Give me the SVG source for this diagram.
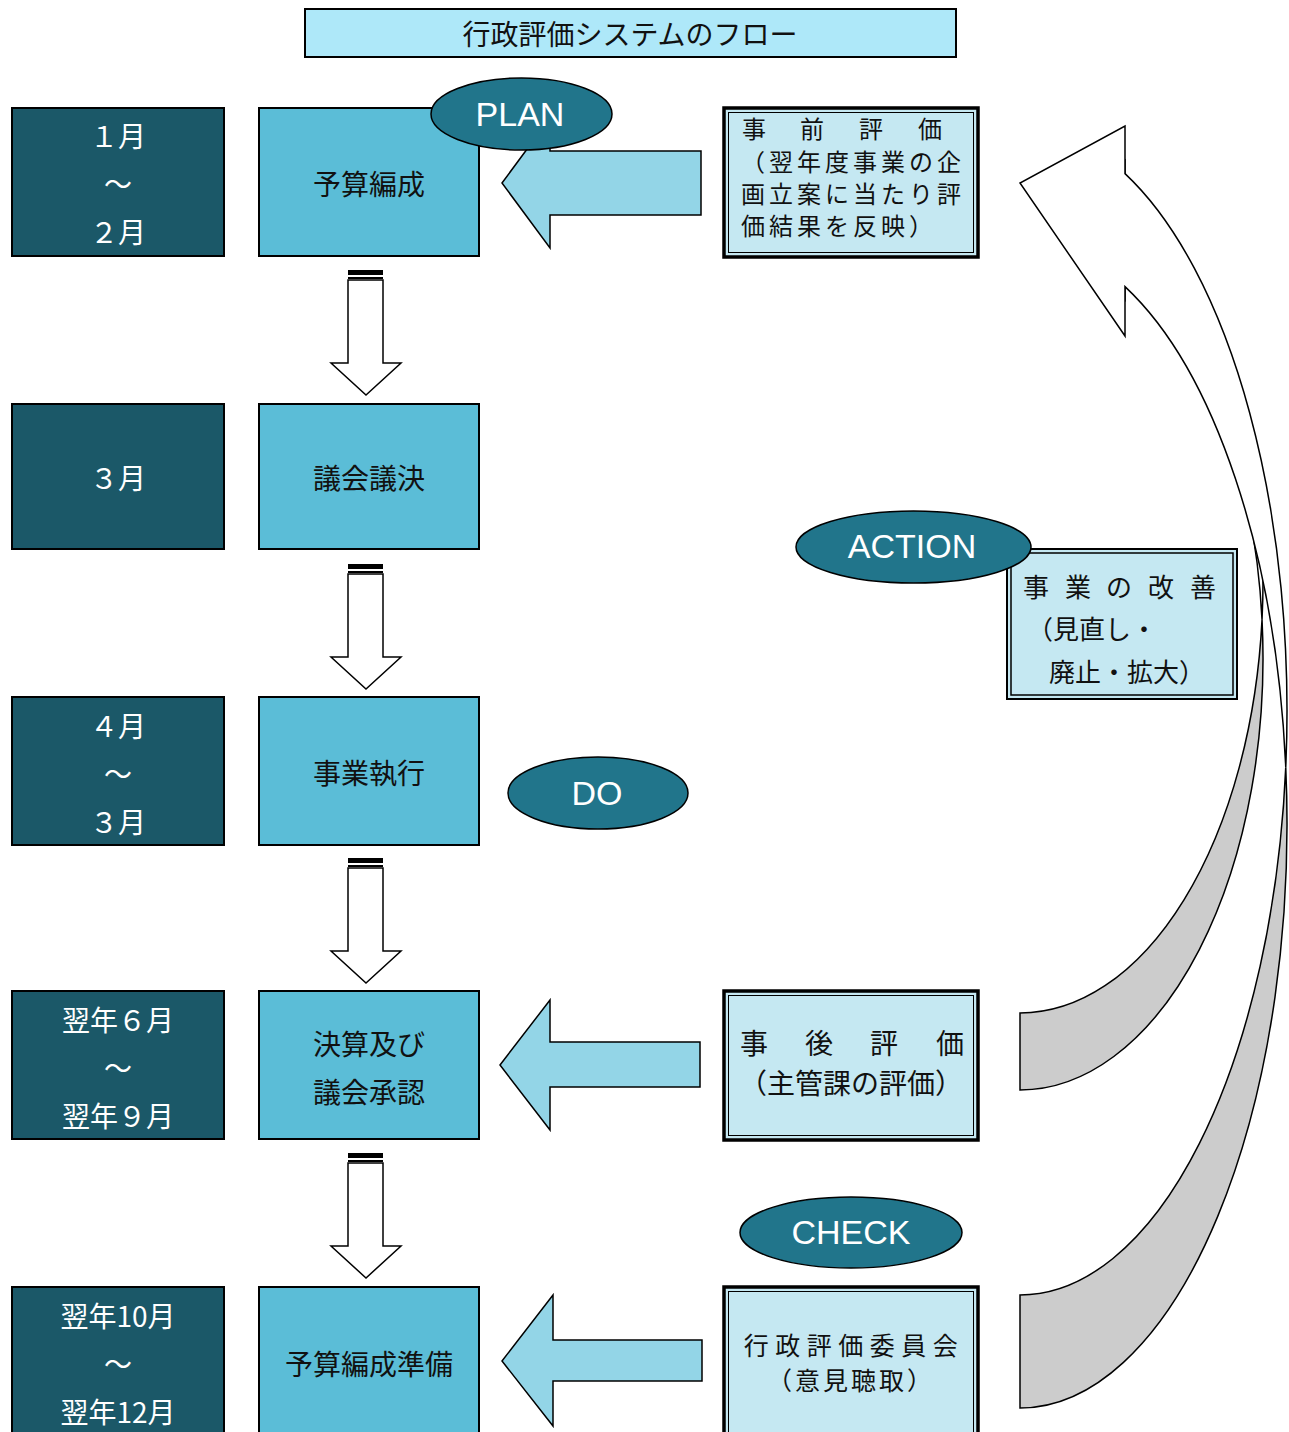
<svg xmlns="http://www.w3.org/2000/svg" width="1289" height="1432" viewBox="0 0 1289 1432">
<style>
.jp{font-family:"Noto Sans CJK JP","Noto Sans",sans-serif;font-size:28px;dominant-baseline:central}
.sm{font-size:24px;letter-spacing:4px}
.dark{fill:#1B5868;stroke:#000;stroke-width:2}
.mid{fill:#5BBDD7;stroke:#000;stroke-width:2}
.light{fill:#C5E8F2;stroke:#000;stroke-width:3.5}
.inner{fill:none;stroke:#000;stroke-width:1}
.wt{fill:#fff;text-anchor:middle}
.bk{fill:#111;text-anchor:middle}
.bl{fill:#111}
.ell{fill:#21758B;stroke:#000;stroke-width:1.5}
.et{font-family:"Liberation Sans",Arial,sans-serif;font-size:34px;fill:#fff;text-anchor:middle;dominant-baseline:central}
.larr{fill:#93D5E7;stroke:#000;stroke-width:1.5}
.darr{fill:#fff;stroke:#000;stroke-width:1.5}
.gray{fill:#CCCCCC;stroke:#000;stroke-width:1.5}
.white{fill:#fff;stroke:#000;stroke-width:1.5}
</style>
<rect width="1289" height="1432" fill="#fff"/>

<g id="title">
<rect x="305" y="9" width="651" height="48" fill="#AEE8F9" stroke="#000" stroke-width="2"/>
<text class="jp bk" x="630" y="33">行政評価システムのフロー</text>
</g>

<g id="connectors">
<defs>
<g id="downArrow">
<rect x="348" y="270" width="35" height="5" fill="#000"/>
<rect x="348" y="277" width="35" height="2" fill="#000"/>
<path class="darr" d="M348,280 L383,280 L383,363 L401,363 L366,395 L331,363 L348,363 Z"/>
</g>
</defs>
<use href="#downArrow"/>
<use href="#downArrow" transform="translate(0,294)"/>
<use href="#downArrow" transform="translate(0,588)"/>
<use href="#downArrow" transform="translate(0,883)"/>

<path class="larr" d="M502,183 L550,118 L550,151 L701,151 L701,215 L550,215 L550,248 Z"/>
<path class="larr" d="M500,1065 L550,1000 L550,1042 L700,1042 L700,1087 L550,1087 L550,1130 Z"/>
<path class="larr" d="M502,1361 L553,1295 L553,1340 L702,1340 L702,1381 L553,1381 L553,1426 Z"/>

<g id="curvedA">
<path class="gray" d="M1020,1013 L1020,1090 A243,431.9 0 0 0 1262.03,619.6 A243,431.9 0 0 1 1020,1013 Z"/>
<path class="white" d="M1262.03,619.6 A243,431.9 0 0 0 1125,191.6 L1125,160 L1035,200 L1125,300 L1125,268.6 A243,431.9 0 0 1 1262.03,619.6 Z"/>
</g>
<g id="curvedB">
<path class="gray" d="M1020,1295 L1020,1408 A267,584.25 0 0 0 1285.75,767.25 A267,584.25 0 0 1 1020,1295 Z"/>
<path class="white" d="M1285.75,767.25 A267,584.25 0 0 0 1125,173.6 L1125,126 L1020,183 L1125,336 L1125,286.6 A267,584.25 0 0 1 1285.75,767.25 Z"/>
</g>
</g>

<g id="month1"><rect class="dark" x="12" y="108" width="212" height="148"/>
<text class="jp wt" x="118" y="135">１月</text><text class="jp wt" x="118" y="183">～</text><text class="jp wt" x="118" y="231">２月</text></g>
<g id="month2"><rect class="dark" x="12" y="404" width="212" height="145"/>
<text class="jp wt" x="118" y="477">３月</text></g>
<g id="month3"><rect class="dark" x="12" y="697" width="212" height="148"/>
<text class="jp wt" x="118" y="725">４月</text><text class="jp wt" x="118" y="773">～</text><text class="jp wt" x="118" y="821">３月</text></g>
<g id="month4"><rect class="dark" x="12" y="991" width="212" height="148"/>
<text class="jp wt" x="118" y="1019">翌年６月</text><text class="jp wt" x="118" y="1067">～</text><text class="jp wt" x="118" y="1115">翌年９月</text></g>
<g id="month5"><rect class="dark" x="12" y="1287" width="212" height="160"/>
<text class="jp wt" x="118" y="1315">翌年10月</text><text class="jp wt" x="118" y="1363">～</text><text class="jp wt" x="118" y="1411">翌年12月</text></g>

<g id="step1"><rect class="mid" x="259" y="108" width="220" height="148"/>
<text class="jp bk" x="369" y="183">予算編成</text></g>
<g id="step2"><rect class="mid" x="259" y="404" width="220" height="145"/>
<text class="jp bk" x="369" y="477">議会議決</text></g>
<g id="step3"><rect class="mid" x="259" y="697" width="220" height="148"/>
<text class="jp bk" x="369" y="772">事業執行</text></g>
<g id="step4"><rect class="mid" x="259" y="991" width="220" height="148"/>
<text class="jp bk" x="369" y="1043">決算及び</text><text class="jp bk" x="369" y="1091">議会承認</text></g>
<g id="step5"><rect class="mid" x="259" y="1287" width="220" height="160"/>
<text class="jp bk" x="369" y="1363">予算編成準備</text></g>

<g id="preEval"><rect class="light" x="724" y="108" width="254" height="149"/>
<rect class="inner" x="728.5" y="112.5" width="245" height="140"/>
<text class="jp bl sm" y="127"><tspan x="742">事</tspan><tspan x="800">前</tspan><tspan x="859">評</tspan><tspan x="918">価</tspan></text>
<text class="jp bl sm" x="741" y="160">（翌年度事業の企</text>
<text class="jp bl sm" x="741" y="192">画立案に当たり評</text>
<text class="jp bl sm" x="741" y="224">価結果を反映）</text></g>

<g id="improve"><rect x="1007" y="549" width="230" height="150" fill="#C5E8F2" stroke="#000" stroke-width="2"/>
<rect x="1011" y="553" width="222" height="142" fill="none" stroke="#000" stroke-width="1.5"/>
<text class="jp bl" y="585" style="font-size:26px"><tspan x="1023">事</tspan><tspan x="1065">業</tspan><tspan x="1106">の</tspan><tspan x="1148">改</tspan><tspan x="1190">善</tspan></text>
<text class="jp bl" x="1027" y="627" style="font-size:26px">（見直し・</text>
<text class="jp bl" x="1049" y="670" style="font-size:26px">廃止・拡大）</text></g>

<g id="postEval"><rect class="light" x="724" y="991" width="254" height="149"/>
<rect class="inner" x="728.5" y="995.5" width="245" height="140"/>
<text class="jp bl" y="1042"><tspan x="740">事</tspan><tspan x="805">後</tspan><tspan x="870">評</tspan><tspan x="936">価</tspan></text>
<text class="jp bk" x="851" y="1082">（主管課の評価）</text></g>

<g id="committee"><rect class="light" x="724" y="1287" width="254" height="160"/>
<rect class="inner" x="728.5" y="1291.5" width="245" height="151"/>
<text class="jp bk" x="854" y="1344" style="font-size:25px;letter-spacing:6.5px">行政評価委員会</text>
<text class="jp bk" x="851" y="1379" style="font-size:25px;letter-spacing:3px">（意見聴取）</text></g>

<g id="plan"><ellipse class="ell" cx="521.5" cy="114" rx="90.5" ry="36"/><text class="et" x="520" y="114">PLAN</text></g>
<g id="action"><ellipse class="ell" cx="913.5" cy="547" rx="117.5" ry="36"/><text class="et" x="912" y="546">ACTION</text></g>
<g id="do"><ellipse class="ell" cx="598" cy="793" rx="90" ry="36"/><text class="et" x="597" y="793">DO</text></g>
<g id="check"><ellipse class="ell" cx="851" cy="1232.5" rx="111" ry="35.5"/><text class="et" x="851" y="1232">CHECK</text></g>
</svg>
